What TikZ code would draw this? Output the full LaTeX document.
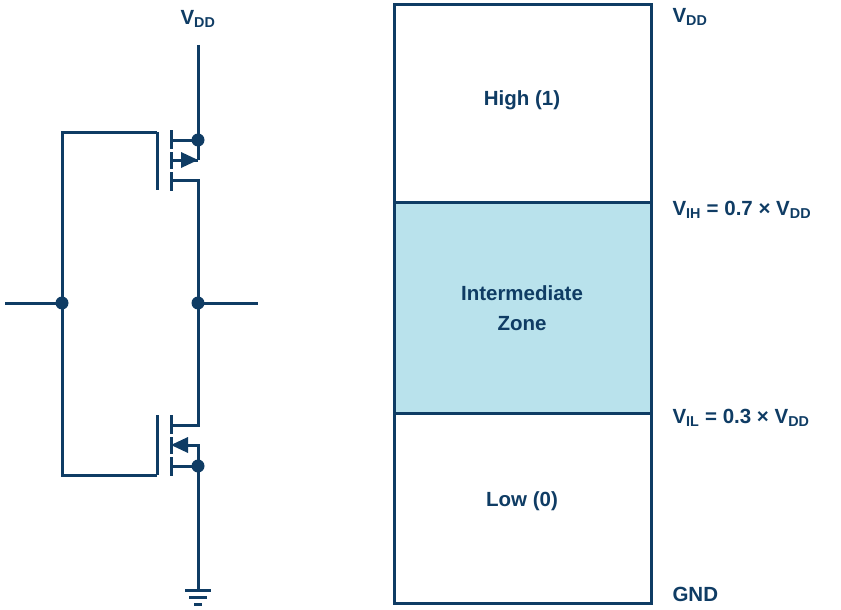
\documentclass[tikz,border=0pt]{standalone}
\usepackage{fontspec}
\setmainfont{Liberation Sans}
\begin{document}
\definecolor{db}{RGB}{15,60,100}
\definecolor{lb}{RGB}{185,226,236}
\begin{tikzpicture}[x=1pt,y=-1pt,line width=3pt,
  dot/.style={circle,fill=db,inner sep=0pt,minimum size=13pt},
  lbl/.style={text=db,font=\bfseries\fontsize{20.5}{24}\selectfont,anchor=west,inner sep=0pt},
  zl/.style={text=db,font=\bfseries\fontsize{20.5}{30}\selectfont,align=center}]
\useasboundingbox (0,0) rectangle (841,610);
\fill[lb] (394,202) rectangle (651,413);
\draw[db] (394,5) rectangle (651,603);
\draw[db] (394,202) -- (651,202) (394,413) -- (651,413);
\node[zl] (hi) at (522,100) {High (1)};
\node[zl] (mid) at (522,308) {Intermediate\\Zone};
\node[zl] (lo) at (522,501) {Low (0)};
\node[lbl] (vdd2) at (671,17) {V\textsubscript{DD}};
\node[lbl] (vih) at (671,210) {V\textsubscript{IH} = 0.7 × V\textsubscript{DD}};
\node[lbl] (vil) at (671,418) {V\textsubscript{IL} = 0.3 × V\textsubscript{DD}};
\node[lbl] (gnd) at (671,594) {GND};
\node[text=db,font=\bfseries\fontsize{20.5}{24}\selectfont] (vdd) at (198,19) {V\textsubscript{DD}};
% nodes
\node[dot] (dp) at (198,140) {};
\node[dot] (dout) at (198,303) {};
\node[dot] (din) at (62,303) {};
\node[dot] (dn) at (198,466) {};
\coordinate (top) at (198,45);
\coordinate (inL) at (5,303);
\coordinate (outR) at (258,303);
\coordinate (gp) at (198,590);
% wires
\draw[db] (top) -- (dp.center) -- (198,160);
\draw[db] (inL) -- (din.center);
\draw[db] (dout.center) -- (outR);
\draw[db] (157,132) -- (62,132) -- (62,475) -- (157,475);
\draw[db] (157,132) -- (157,190) (157,415) -- (157,475);
% PMOS
\draw[db] (171,130)--(171,149) (171,152)--(171,169) (171,172)--(171,191);
\draw[db] (171,140) -- (dp.center);
\draw[db] (171,160) -- (198,160);
\fill[db] (198,160) -- (181,152) -- (181,168) -- cycle;
\draw[db] (171,180) -- (198,180) -- (dout.center) -- (198,425) -- (171,425);
% NMOS
\draw[db] (171,415)--(171,434) (171,437)--(171,454) (171,457)--(171,476);
\draw[db] (175,445) -- (198,445) -- (dn.center);
\fill[db] (171,445) -- (188,437) -- (188,453) -- cycle;
\draw[db] (171,466) -- (dn.center) -- (gp);
\draw[db] (185,590) -- (211,590) (189,597) -- (207,597) (194,604) -- (202,604);
\end{tikzpicture}
\end{document}
